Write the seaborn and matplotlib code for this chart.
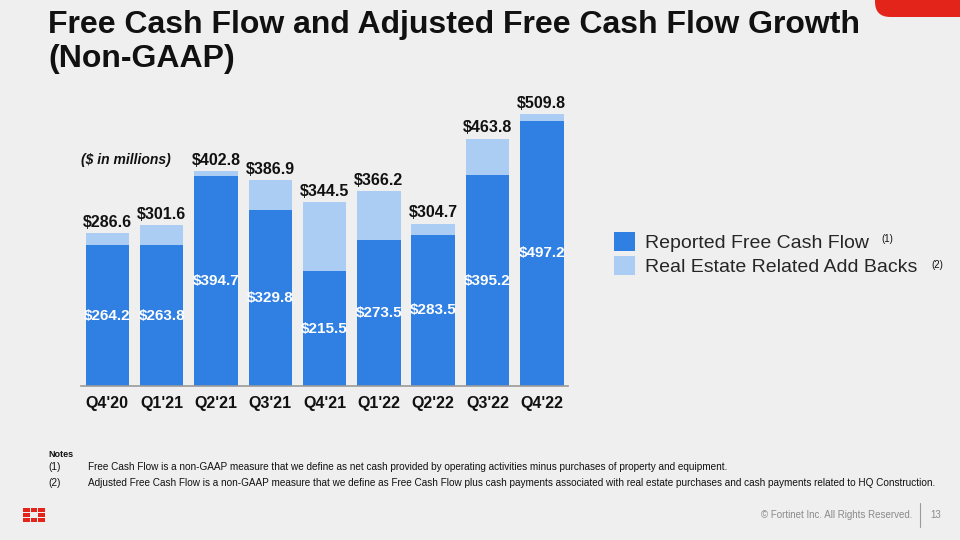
import matplotlib
matplotlib.use("Agg")
import matplotlib.pyplot as plt
import seaborn as sns
from matplotlib.patches import Patch, Rectangle, FancyBboxPatch

# data (in $ millions)
quarters = ["Q4'20", "Q1'21", "Q2'21", "Q3'21", "Q4'21", "Q1'22", "Q2'22", "Q3'22", "Q4'22"]
adjusted_fcf = [286.6, 301.6, 402.8, 386.9, 344.5, 366.2, 304.7, 463.8, 509.8]
reported_fcf = [264.2, 263.8, 394.7, 329.8, 215.5, 273.5, 283.5, 395.2, 497.2]

bg = "#efefef"
dark = "#2f80e2"
light = "#accdf3"
red = "#e2241b"

sns.set_theme(style="white")
plt.rcParams["font.family"] = ["Liberation Sans", "DejaVu Sans"]

fig = plt.figure(figsize=(9.6, 5.4), dpi=100, facecolor=bg)
ax = fig.add_axes([0.0841, 0.2852, 0.508, 0.548], facecolor=bg)

# light bars = adjusted total, dark bars = reported on top of them
sns.barplot(x=quarters, y=adjusted_fcf, color=light, saturation=1, width=0.8,
            linewidth=0, ax=ax)
sns.barplot(x=quarters, y=reported_fcf, color=dark, saturation=1, width=0.8,
            linewidth=0, ax=ax)

ax.set_ylim(0, 555)
ax.set_xlim(-0.49, 8.49)
for s in ["top", "right", "left"]:
    ax.spines[s].set_visible(False)
ax.spines["bottom"].set_color("#9a9a9a")
ax.spines["bottom"].set_linewidth(1.2)
ax.set_yticks([])
ax.tick_params(axis="x", length=3, color="#9a9a9a", width=1, pad=4)
for lbl in ax.get_xticklabels():
    lbl.set_fontweight("bold")
    lbl.set_fontsize(11.5)
    lbl.set_color("#111111")

for i, (tot, rep) in enumerate(zip(adjusted_fcf, reported_fcf)):
    ax.text(i, tot + 6, f"${tot:.1f}", ha="center", va="bottom",
            fontsize=11.5, fontweight="bold", color="#111111")
    ax.text(i, rep / 2, f"${rep:.1f}", ha="center", va="center",
            fontsize=11, fontweight="bold", color="white")

ax.text(0.0, 0.764, "($ in millions)", transform=ax.transAxes, ha="left", va="center",
        fontsize=10, fontweight="bold", fontstyle="italic", color="#111111")

# title
fig.text(0.05, 0.981, "Free Cash Flow and Adjusted Free Cash Flow Growth\n(Non-GAAP)",
         ha="left", va="top", fontsize=23, fontweight="bold", color="#111111",
         linespacing=1.15)

# legend
handles = [Patch(facecolor=dark, edgecolor="none"), Patch(facecolor=light, edgecolor="none")]
fig.legend(handles, ["Reported Free Cash Flow", "Real Estate Related Add Backs"],
           loc="upper left", bbox_to_anchor=(0.640, 0.570), frameon=False,
           fontsize=14, handlelength=1.05, handleheight=1.1, handletextpad=0.5,
           labelspacing=0.2, borderpad=0, borderaxespad=0)
fig.text(0.918, 0.558, "(1)", fontsize=7, color="#111111", ha="left", va="center")
fig.text(0.970, 0.509, "(2)", fontsize=7, color="#111111", ha="left", va="center")

# notes
note_fs = 7.2
fig.text(0.05, 0.159, "Notes", fontsize=6.5, fontweight="bold", color="#111111", va="center")
fig.text(0.05, 0.135, "(1)", fontsize=note_fs, color="#111111", va="center")
fig.text(0.092, 0.135, "Free Cash Flow is a non-GAAP measure that we define as net cash provided by operating "
         "activities minus purchases of property and equipment.", fontsize=note_fs, color="#111111", va="center")
fig.text(0.05, 0.106, "(2)", fontsize=note_fs, color="#111111", va="center")
fig.text(0.092, 0.106, "Adjusted Free Cash Flow is a non-GAAP measure that we define as Free Cash Flow plus cash "
         "payments associated with real estate purchases and cash payments related to HQ Construction.",
         fontsize=note_fs, color="#111111", va="center")

# footer
fig.text(0.950, 0.046, "\u00a9 Fortinet Inc. All Rights Reserved.", fontsize=7, color="#8a8a8a",
         ha="right", va="center")
fig.add_artist(plt.Line2D([0.958, 0.958], [0.025, 0.068], color="#9a9a9a", lw=0.8))
fig.text(0.975, 0.046, "13", fontsize=7, color="#8a8a8a", ha="center", va="center")

# red corner tab
fig.add_artist(FancyBboxPatch((875 / 960, 1 - 17 / 540), 0.2, 0.1,
                              boxstyle="round,pad=0,rounding_size=0.016",
                              facecolor=red, edgecolor="none", transform=fig.transFigure,
                              mutation_aspect=960 / 540))
# logo: 3x3 grid without the centre
col_x = [23, 30.5, 38]
row_y = [508, 513, 518]
for ci, px in enumerate(col_x):
    for ri, py in enumerate(row_y):
        if ci == 1 and ri == 1:
            continue
        fig.add_artist(Rectangle((px / 960, 1 - (py + 4.3) / 540), 6.6 / 960, 4.3 / 540,
                                 facecolor=red, edgecolor="none", transform=fig.transFigure))

fig.savefig("out.png", dpi=100, facecolor=bg)
